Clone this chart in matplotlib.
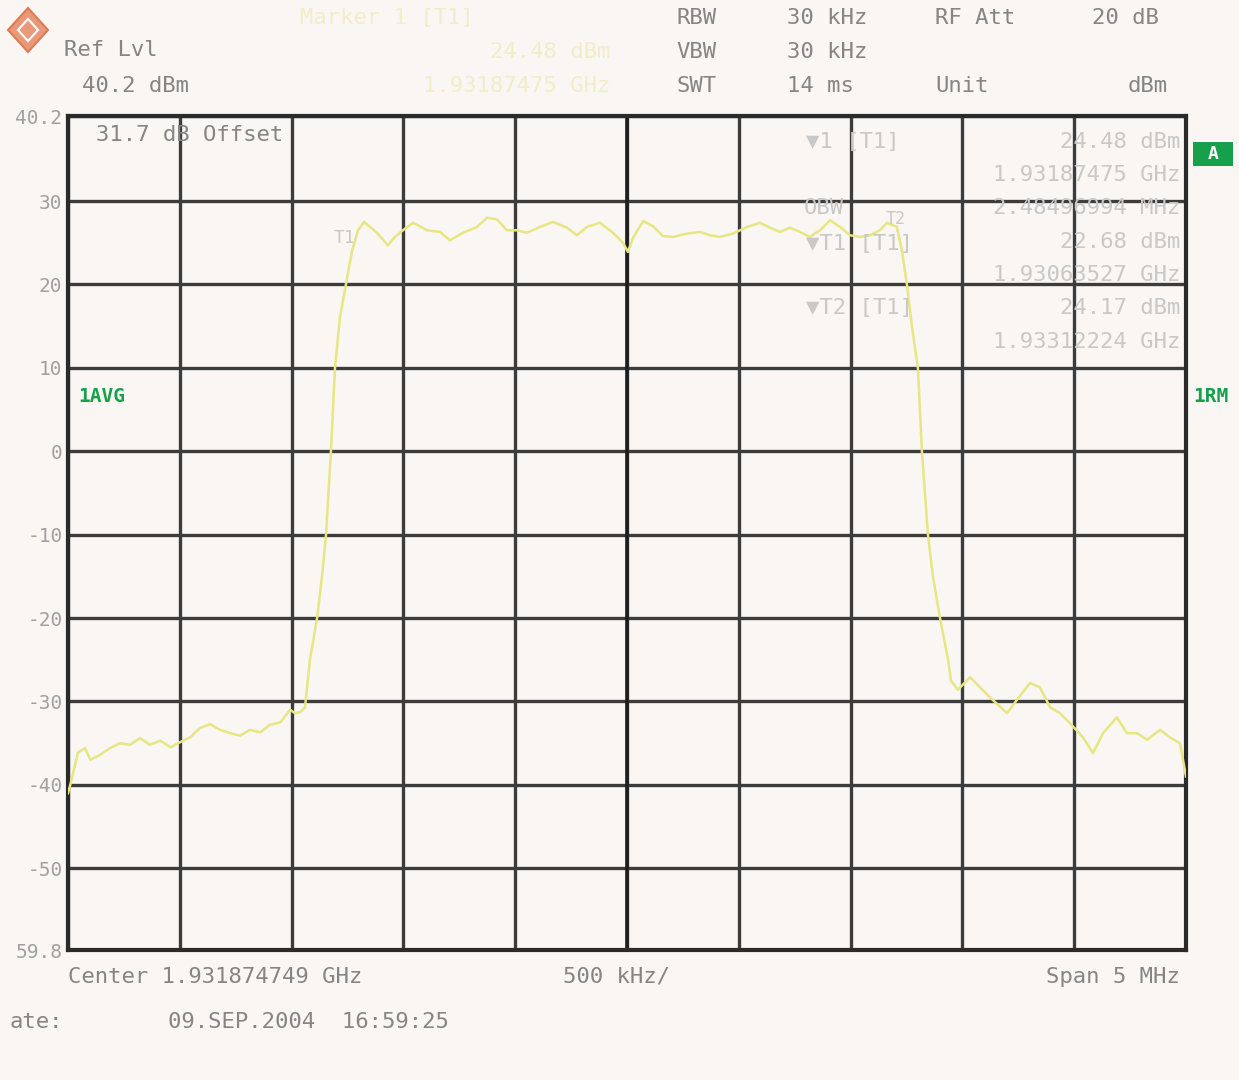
import matplotlib.pyplot as plt
from matplotlib.patches import Polygon, Rectangle

# trace: offset from center (MHz) and level (dBm)
freq_offset = [
    -2.500, -2.490, -2.455, -2.424, -2.400, -2.357, -2.312, -2.267, -2.223, -2.178,
    -2.133, -2.088, -2.040, -2.000, -1.954, -1.910, -1.865, -1.820, -1.775, -1.730,
    -1.686, -1.640, -1.597, -1.550, -1.507, -1.485, -1.462, -1.440, -1.418, -1.386,
    -1.364, -1.346, -1.324, -1.306, -1.284, -1.257, -1.230, -1.203, -1.176, -1.118,
    -1.069, -1.038, -1.002, -0.957, -0.894, -0.836, -0.792, -0.733, -0.671, -0.626,
    -0.581, -0.537, -0.492, -0.447, -0.389, -0.331, -0.268, -0.224, -0.179, -0.121,
    -0.063, -0.018, 0.004, 0.027, 0.072, 0.116, 0.161, 0.206, 0.268, 0.326,
    0.371, 0.416, 0.474, 0.537, 0.595, 0.640, 0.684, 0.729, 0.774, 0.818,
    0.863, 0.908, 0.953, 0.997, 1.042, 1.087, 1.131, 1.163, 1.207, 1.230,
    1.252, 1.274, 1.301, 1.319, 1.346, 1.368, 1.400, 1.436, 1.449, 1.480,
    1.534, 1.579, 1.623, 1.700, 1.744, 1.802, 1.847, 1.892, 1.936, 1.981,
    2.039, 2.084, 2.129, 2.191, 2.236, 2.281, 2.326, 2.384, 2.428, 2.473,
    2.500,
]
level_dbm = [
    -41.0, -40.0, -36.1, -35.6, -37.0, -36.4, -35.6, -35.0, -35.2, -34.4,
    -35.2, -34.7, -35.5, -34.9, -34.3, -33.2, -32.7, -33.4, -33.8, -34.1,
    -33.4, -33.7, -32.8, -32.5, -31.0, -31.4, -31.3, -30.7, -25.0, -20.0,
    -15.0, -10.0, 0.0, 10.0, 16.0, 20.0, 24.0, 26.5, 27.5, 26.2,
    24.7, 25.7, 26.5, 27.4, 26.5, 26.3, 25.3, 26.2, 26.9, 28.0,
    27.8, 26.5, 26.5, 26.2, 26.9, 27.5, 26.8, 25.9, 26.9, 27.4,
    26.2, 25.0, 23.9, 25.6, 27.6, 27.0, 25.8, 25.7, 26.1, 26.3,
    25.9, 25.7, 26.1, 26.9, 27.4, 26.8, 26.3, 26.8, 26.3, 25.7,
    26.5, 27.7, 26.9, 25.9, 25.7, 25.9, 26.5, 27.4, 26.9, 24.0,
    20.0, 15.0, 10.0, 0.0, -10.0, -15.0, -20.0, -25.0, -27.5, -28.6,
    -27.1, -28.3, -29.5, -31.4, -29.8, -27.8, -28.3, -30.7, -31.4, -32.6,
    -34.3, -36.2, -33.8, -31.9, -33.8, -33.8, -34.6, -33.4, -34.3, -35.0,
    -39.0,
]

y_ticks = [40.2, 30, 20, 10, 0, -10, -20, -30, -40, -50, -59.8]
y_tick_labels = ['40.2', '30', '20', '10', '0', '-10', '-20', '-30', '-40', '-50', '59.8']
x_ticks = [-2.5, -2.0, -1.5, -1.0, -0.5, 0.0, 0.5, 1.0, 1.5, 2.0, 2.5]

W, H = 1239, 1080
bg = '#f9f6f3'
grid_col = '#3c3c3c'
txt_col = '#858585'
faint = '#c8c8c8'
green = '#16a04c'
mono = 'DejaVu Sans Mono'

fig = plt.figure(figsize=(W / 100, H / 100), dpi=100, facecolor=bg)
ax = fig.add_axes([68 / W, 1 - 950 / H, (1186 - 68) / W, (950 - 116) / H], facecolor=bg)

ax.plot(freq_offset, level_dbm, color='#e6e682', lw=1.8, zorder=3)
ax.set_xlim(-2.5, 2.5)
ax.set_ylim(-59.8, 40.2)
ax.set_xticks(x_ticks)
ax.set_xticklabels([])
ax.set_yticks(y_ticks)
ax.set_yticklabels(y_tick_labels, family=mono, fontsize=14, color='#a0a0a0')
ax.tick_params(length=0, pad=4)
ax.grid(True, color=grid_col, lw=2.4, zorder=1)
ax.axvline(0, color='#1e1e1e', lw=2.6, zorder=2)
for s in ax.spines.values():
    s.set_color('#2a2a2a')
    s.set_linewidth(3.0)


def px(x, y, s, **kw):
    kw.setdefault('family', mono)
    kw.setdefault('fontsize', 16)
    kw.setdefault('color', txt_col)
    kw.setdefault('va', 'center')
    fig.text(x / W, 1 - y / H, s, **kw)


# logo
fig.patches.append(Polygon([(8 / W, 1 - 30 / H), (28 / W, 1 - 8 / H), (48 / W, 1 - 30 / H),
                            (28 / W, 1 - 52 / H)], closed=True, transform=fig.transFigure,
                           facecolor='#e9997a', edgecolor='#e07a55', lw=1.5))
fig.patches.append(Polygon([(18 / W, 1 - 30 / H), (28 / W, 1 - 19 / H), (38 / W, 1 - 30 / H),
                            (28 / W, 1 - 41 / H)], closed=True, transform=fig.transFigure,
                           facecolor='none', edgecolor='white', lw=1.5))

# header
px(64, 50, 'Ref Lvl')
px(82, 86, '40.2 dBm')
px(300, 18, 'Marker 1 [T1]', color='#f1edc8')
px(610, 52, '24.48 dBm', color='#f1edc8', ha='right')
px(610, 86, '1.93187475 GHz', color='#f1edc8', ha='right')
px(676, 18, 'RBW')
px(787, 18, '30 kHz')
px(935, 18, 'RF Att')
px(1092, 18, '20 dB')
px(676, 52, 'VBW')
px(787, 52, '30 kHz')
px(676, 86, 'SWT')
px(787, 86, '14 ms')
px(935, 86, 'Unit')
px(1168, 86, 'dBm', ha='right')

# inside the graticule
px(96, 135, '31.7 dB Offset')
px(806, 142, '\u25bc1 [T1]', color=faint)
px(1180, 142, '24.48 dBm', color=faint, ha='right')
px(1180, 175, '1.93187475 GHz', color=faint, ha='right')
px(804, 208, 'OBW', color=faint)
px(1180, 208, '2.48496994 MHz', color=faint, ha='right')
px(806, 244, '\u25bcT1 [T1]', color=faint)
px(1180, 242, '22.68 dBm', color=faint, ha='right')
px(1180, 275, '1.93063527 GHz', color=faint, ha='right')
px(806, 308, '\u25bcT2 [T1]', color=faint)
px(1180, 308, '24.17 dBm', color=faint, ha='right')
px(1180, 342, '1.93312224 GHz', color=faint, ha='right')
px(334, 238, 'T1', color=faint, fontsize=13)
px(886, 219, 'T2', color=faint, fontsize=12)

px(78, 397, '1AVG', color=green, fontweight='bold', fontsize=14)
px(1193, 397, '1RM', color=green, fontweight='bold', fontsize=14)
fig.patches.append(Rectangle((1193 / W, 1 - 166 / H), 40 / W, 24 / H, transform=fig.transFigure,
                             facecolor=green, edgecolor='none'))
px(1213, 154, 'A', color='white', fontweight='bold', fontsize=13, ha='center')

# footer
px(68, 977, 'Center 1.931874749 GHz')
px(563, 977, '500 kHz/')
px(1180, 977, 'Span 5 MHz', ha='right')
px(10, 1022, 'ate:')
px(168, 1022, '09.SEP.2004  16:59:25')

fig.savefig('out.png', dpi=100, facecolor=bg)
